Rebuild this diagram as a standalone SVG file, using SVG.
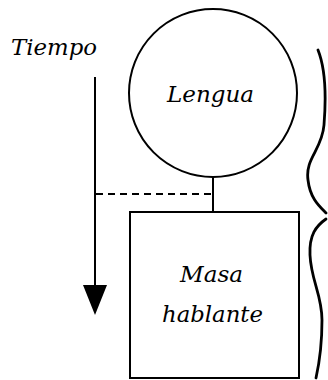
<svg xmlns="http://www.w3.org/2000/svg" width="328" height="380" viewBox="0 0 328 380">
<style>
.t{font-family:'DejaVu Serif',serif;font-style:italic;font-size:23px;fill:#000}
.s{fill:none;stroke:#000;stroke-width:2}
.b{fill:none;stroke:#000;stroke-width:2.8;stroke-linecap:round}
</style>
<rect width="328" height="380" fill="#fff"/>
<g id="connectors">
<line class="s" x1="213" y1="176" x2="213" y2="212"/>
<line class="s" x1="96" y1="194" x2="213" y2="194" stroke-dasharray="7,5"/>
<line class="s" x1="95" y1="77" x2="95" y2="288"/>
<polygon points="83,285 107,285 95,315" fill="#000"/>
</g>
<g id="tiempo"><text class="t" x="11" y="55" textLength="86" lengthAdjust="spacingAndGlyphs">Tiempo</text></g>
<g id="lengua">
<circle class="s" cx="213" cy="93" r="84"/>
<text class="t" x="167" y="102" textLength="87" lengthAdjust="spacingAndGlyphs">Lengua</text>
</g>
<g id="masa">
<rect class="s" x="130" y="212" width="169" height="166"/>
<text class="t" x="180" y="282" textLength="63" lengthAdjust="spacingAndGlyphs">Masa</text>
<text class="t" x="162" y="322" textLength="101" lengthAdjust="spacingAndGlyphs">hablante</text>
</g>
<g id="brace">
<path class="b" d="M318,50 C326,70 326,100 324,125 C322,150 305,158 308,180 C310,198 319,206 326,213"/>
<path class="b" d="M326,219 C316,226 309,235 310,255 C311,280 322,295 322,320 C322,345 320,360 316,378"/>
</g>
</svg>
